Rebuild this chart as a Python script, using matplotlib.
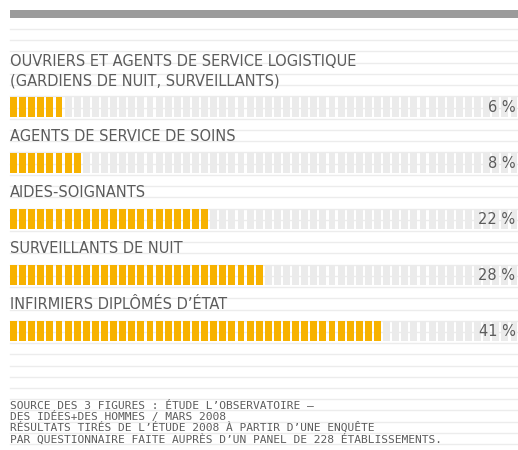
import numpy as np
import matplotlib.pyplot as plt

# data
categories = [
    "OUVRIERS ET AGENTS DE SERVICE LOGISTIQUE\n(GARDIENS DE NUIT, SURVEILLANTS)",
    "AGENTS DE SERVICE DE SOINS",
    "AIDES-SOIGNANTS",
    "SURVEILLANTS DE NUIT",
    "INFIRMIERS DIPLÔMÉS D’ÉTAT",
]
values = [6, 8, 22, 28, 41]
value_labels = ["6 %", "8 %", "22 %", "28 %", "41 %"]
source_lines = [
    "SOURCE DES 3 FIGURES : ÉTUDE L’OBSERVATOIRE –",
    "DES IDÉES+DES HOMMES / MARS 2008",
    "RÉSULTATS TIRÉS DE L’ÉTUDE 2008 À PARTIR D’UNE ENQUÊTE",
    "PAR QUESTIONNAIRE FAITE AUPRÈS D’UN PANEL DE 228 ÉTABLISSEMENTS.",
]

orange = '#f7b200'
seg_gray = '#ebebeb'
text_gray = '#5c5c5c'

W, H = 518, 450
fig = plt.figure(figsize=(W / 100, H / 100), dpi=100)

# background: ruled lines + top bar (pixel coords)
bg = fig.add_axes([0, 0, 1, 1])
bg.set_xlim(0, W)
bg.set_ylim(H, 0)
bg.axis('off')
for y in np.arange(29, H, 11.22):
    bg.plot([10, W], [y, y], color='#ececec', lw=1, zorder=0)
bg.fill_between([10, W], 10, 18, color='#9b9b9b', lw=0)

# bars: 1 segment = 1 %
px_per_unit = 9.1
ax = fig.add_axes([10 / W, 0, (W - 10) / W, 1])
ax.set_xlim(0, (W - 10) / px_per_unit)
ax.set_ylim(6.125, -1.911)
ax.axis('off')
n_seg = int(np.ceil((W - 10) / px_per_unit))

for k, (cat, v, lab) in enumerate(zip(categories, values, value_labels)):
    ax.barh(k, 0.76, left=np.arange(v, n_seg), height=0.357,
            align='center', color=seg_gray, lw=0)
    ax.barh(k, 0.76, left=np.arange(v), height=0.357,
            align='center', color=orange, lw=0)
    ax.text(0, k - 0.39, cat, ha='left', va='baseline', color=text_gray,
            fontsize=11.7, family='DejaVu Sans', fontstretch='condensed',
            linespacing=1.35)
    ax.text(0.995, k, lab, transform=ax.get_yaxis_transform(),
            ha='right', va='center', color=text_gray, fontsize=11.7,
            family='DejaVu Sans', fontstretch='condensed')

for i, line in enumerate(source_lines):
    fig.text(10 / W, 1 - (409 + i * 11.1) / H, line, ha='left',
             va='baseline', color=text_gray, fontsize=8.1,
             family='DejaVu Sans Mono')

fig.savefig('out.png', dpi=100)
